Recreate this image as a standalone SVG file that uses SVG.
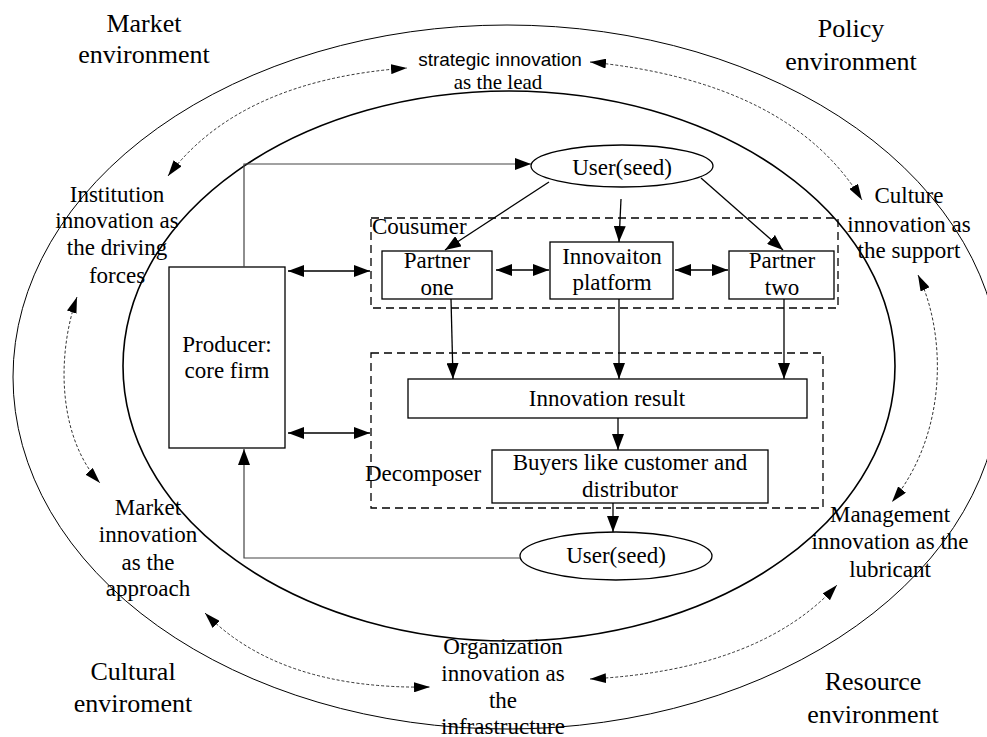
<svg xmlns="http://www.w3.org/2000/svg" width="987" height="737" viewBox="0 0 987 737">
<defs>
<marker id="ah" markerUnits="userSpaceOnUse" markerWidth="16" markerHeight="12" refX="16" refY="6" orient="auto-start-reverse"><path d="M0,0 L16,6 L0,12 z" fill="#000"/></marker>
<marker id="dh" markerUnits="userSpaceOnUse" markerWidth="16" markerHeight="10" refX="16" refY="5" orient="auto-start-reverse"><path d="M0,0 L16,5 L0,10 z" fill="#000"/></marker>
</defs>
<style>
text{font-family:"Liberation Serif","Times New Roman",serif;fill:#000}
.env{font-size:26px;text-anchor:middle}
.lab{font-size:23px;text-anchor:middle}
.box{fill:#fff;stroke:#000;stroke-width:1.3}
.dbox{fill:none;stroke:#000;stroke-width:1.3;stroke-dasharray:8,5}
.ring{fill:none;stroke:#000}
.c{fill:none;stroke:#000;stroke-width:1.3}
.g{fill:none;stroke:#444;stroke-width:1.2}
.d{fill:none;stroke:#000;stroke-width:0.8;stroke-dasharray:3,2}
</style>
<rect width="987" height="737" fill="#fff"/>
<g id="rings">
<ellipse class="ring" cx="507" cy="377" rx="494" ry="352" stroke-width="1"/>
<ellipse class="ring" cx="509" cy="366" rx="386" ry="275" stroke-width="1.6"/>
</g>
<g id="env-labels">
<text class="env" x="144" y="32">Market</text>
<text class="env" x="144" y="63">environment</text>
<text class="env" x="851" y="37">Policy</text>
<text class="env" x="851" y="70">environment</text>
<text class="env" x="133" y="680">Cultural</text>
<text class="env" x="133" y="712">enviroment</text>
<text class="env" x="873" y="690">Resource</text>
<text class="env" x="873" y="723">environment</text>
</g>
<g id="strategic">
<text x="500" y="66" style="font-family:'Liberation Sans',Arial,sans-serif;font-size:19px;text-anchor:middle">strategic innovation</text>
<text class="lab" x="498" y="89" style="font-size:21px">as the lead</text>
</g>
<g id="institution">
<text class="lab" x="117" y="202">Institution</text>
<text class="lab" x="117" y="228">innovation as</text>
<text class="lab" x="117" y="255">the driving</text>
<text class="lab" x="117" y="283">forces</text>
</g>
<g id="culture">
<text class="lab" x="909" y="203">Culture</text>
<text class="lab" x="909" y="232">innovation as</text>
<text class="lab" x="909" y="258">the support</text>
</g>
<g id="market-innovation">
<text class="lab" x="148" y="515">Market</text>
<text class="lab" x="148" y="542">innovation</text>
<text class="lab" x="148" y="570">as the</text>
<text class="lab" x="148" y="596">approach</text>
</g>
<g id="management">
<text class="lab" x="890" y="522">Management</text>
<text class="lab" x="890" y="549">innovation as the</text>
<text class="lab" x="890" y="577">lubricant</text>
</g>
<g id="organization">
<text class="lab" x="503" y="654">Organization</text>
<text class="lab" x="503" y="681">innovation as</text>
<text class="lab" x="503" y="708">the</text>
<text class="lab" x="503" y="734">infrastructure</text>
</g>
<g id="cousumer">
<rect class="dbox" x="371" y="218" width="467" height="90"/>
<text x="372" y="234" style="font-size:23px">Cousumer</text>
</g>
<g id="decomposer">
<rect class="dbox" x="371" y="353" width="452" height="155"/>
<text x="365" y="481" style="font-size:23px">Decomposer</text>
</g>
<g id="producer">
<rect class="box" x="169" y="267" width="116" height="181"/>
<text class="lab" x="227" y="352">Producer:</text>
<text class="lab" x="227" y="378">core firm</text>
</g>
<g id="user-top">
<ellipse class="box" cx="622" cy="166" rx="91" ry="21"/>
<text class="lab" x="622" y="175">User(seed)</text>
</g>
<g id="partner-one">
<rect class="box" x="382" y="251" width="110" height="48"/>
<text class="lab" x="437" y="268">Partner</text>
<text class="lab" x="437" y="295">one</text>
</g>
<g id="platform">
<rect class="box" x="550" y="242" width="123" height="57"/>
<text class="lab" x="612" y="264">Innovaiton</text>
<text class="lab" x="612" y="290">platform</text>
</g>
<g id="partner-two">
<rect class="box" x="729" y="251" width="105" height="48"/>
<text class="lab" x="782" y="268">Partner</text>
<text class="lab" x="782" y="295">two</text>
</g>
<g id="result">
<rect class="box" x="408" y="379" width="399" height="39"/>
<text class="lab" x="607" y="406">Innovation result</text>
</g>
<g id="buyers">
<rect class="box" x="492" y="450" width="276" height="53"/>
<text class="lab" x="630" y="470">Buyers like customer and</text>
<text class="lab" x="630" y="497">distributor</text>
</g>
<g id="user-bottom">
<ellipse class="box" cx="616" cy="556" rx="96" ry="24"/>
<text class="lab" x="616" y="563">User(seed)</text>
</g>
<g id="connectors">
<path class="g" d="M244,267 V164 H531" marker-end="url(#ah)"/>
<path class="g" d="M520,558 H244 V449" marker-end="url(#ah)"/>
<path class="c" d="M549,182 L445,250" marker-end="url(#ah)"/>
<path class="c" d="M621,199 L619,242" marker-end="url(#ah)"/>
<path class="c" d="M701,178 L783,250" marker-end="url(#ah)"/>
<path class="c" d="M288,271 H370" marker-start="url(#ah)" marker-end="url(#ah)"/>
<path class="c" d="M288,433 H370" marker-start="url(#ah)" marker-end="url(#ah)"/>
<path class="c" d="M496,270 H549" marker-start="url(#ah)" marker-end="url(#ah)"/>
<path class="c" d="M675,270 H728" marker-start="url(#ah)" marker-end="url(#ah)"/>
<path class="c" d="M451,299 L453,379" marker-end="url(#ah)"/>
<path class="c" d="M619,299 V379" marker-end="url(#ah)"/>
<path class="c" d="M784,299 V379" marker-end="url(#ah)"/>
<path class="c" d="M618,418 V450" marker-end="url(#ah)"/>
<path class="c" d="M613,503 V532" marker-end="url(#ah)"/>
<path class="d" d="M168,176 Q240,80 407,68" marker-start="url(#dh)" marker-end="url(#dh)"/>
<path class="d" d="M590,62 Q790,82 862,200" marker-start="url(#dh)" marker-end="url(#dh)"/>
<path class="d" d="M918,275 C945,330 950,430 892,502" marker-start="url(#dh)" marker-end="url(#dh)"/>
<path class="d" d="M590,679 Q760,670 837,585" marker-start="url(#dh)" marker-end="url(#dh)"/>
<path class="d" d="M205,613 Q280,690 430,687" marker-start="url(#dh)" marker-end="url(#dh)"/>
<path class="d" d="M77,297 C55,360 60,440 100,483" marker-start="url(#dh)" marker-end="url(#dh)"/>
</g>
</svg>
